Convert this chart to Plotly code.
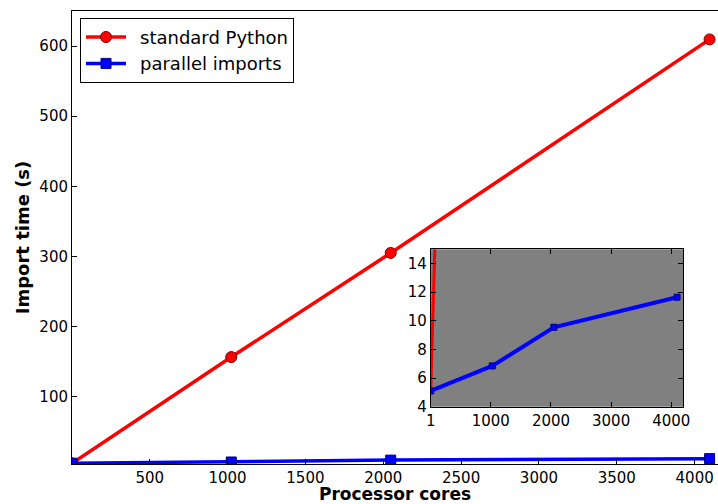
import plotly.graph_objects as go

cores = [1, 1024, 2048, 4096]
standard_python = [5.0, 156.5, 305.0, 609.5]
parallel_imports = [5.1, 6.85, 9.55, 11.65]

main_xticks = [500, 1000, 1500, 2000, 2500, 3000, 3500, 4000]
main_yticks = [100, 200, 300, 400, 500, 600]
inset_xticks = [1, 1000, 2000, 3000, 4000]
inset_yticks = [4, 6, 8, 10, 12, 14]

FONT = "DejaVu Sans"

fig = go.Figure()

fig.add_trace(go.Scatter(
    x=cores, y=standard_python, mode="lines+markers", name="\u2002standard Python",
    line=dict(color="#ff0000", width=3.5),
    marker=dict(symbol="circle", size=11, color="#ff0000", line=dict(color="#7a0000", width=1)),
    xaxis="x", yaxis="y"))
fig.add_trace(go.Scatter(
    x=cores, y=parallel_imports, mode="lines+markers", name="\u2002parallel imports",
    line=dict(color="#0000ff", width=3.5),
    marker=dict(symbol="square", size=10, color="#0000ff", line=dict(color="#000080", width=1)),
    xaxis="x", yaxis="y"))

# inset
fig.add_trace(go.Scatter(
    x=cores, y=standard_python, mode="lines", showlegend=False,
    line=dict(color="#ff0000", width=3),
    xaxis="x2", yaxis="y2"))
fig.add_trace(go.Scatter(
    x=cores, y=parallel_imports, mode="lines+markers", showlegend=False,
    line=dict(color="#0000ff", width=4),
    marker=dict(symbol="square", size=6, color="#0000ff", line=dict(color="#000080", width=1)),
    xaxis="x2", yaxis="y2"))

fig.add_shape(type="rect", xref="x2 domain", yref="y2 domain", x0=0, x1=1, y0=0, y1=1,
              fillcolor="#808080", line=dict(width=0), layer="below")


def axis_style(size):
    return dict(showgrid=False, zeroline=False, showline=True, linecolor="black",
                linewidth=1, ticks="inside", tickcolor="black", ticklen=5,
                automargin=False,
                tickfont=dict(family=FONT, size=size, color="black"))


fig.update_layout(
    width=718, height=504,
    margin=dict(l=72, r=0, t=11, b=40),
    paper_bgcolor="white", plot_bgcolor="rgba(0,0,0,0)",
    font=dict(family=FONT, color="black"),
    xaxis=dict(range=[1, 4150], domain=[0, 1], tickvals=main_xticks, mirror=True,
               title=dict(text="<b>Processor cores</b>", font=dict(family=FONT, size=17), standoff=1),
               **axis_style(15)),
    yaxis=dict(range=[4, 650], domain=[0, 1], tickvals=main_yticks, mirror=False,
               title=dict(text="<b>Import time (s)</b>", font=dict(family=FONT, size=18), standoff=5),
               **axis_style(15)),
    xaxis2=dict(range=[1, 4200], domain=[0.5553, 0.9463], anchor="y2", tickvals=inset_xticks,
                mirror="allticks", **axis_style(15)),
    yaxis2=dict(range=[4, 15], domain=[0.1265, 0.474], anchor="x2", tickvals=inset_yticks,
                mirror="allticks", **axis_style(15)),
    legend=dict(x=0.0124, y=0.985, xanchor="left", yanchor="top",
                bordercolor="black", borderwidth=1, bgcolor="white",
                font=dict(family=FONT, size=18, color="black"),
                itemwidth=40, tracegroupgap=0),
    showlegend=True,
)

fig.write_html("out.html", config={"displayModeBar": False},
               post_script="document.body.style.margin='0';document.body.style.overflow='hidden';")
